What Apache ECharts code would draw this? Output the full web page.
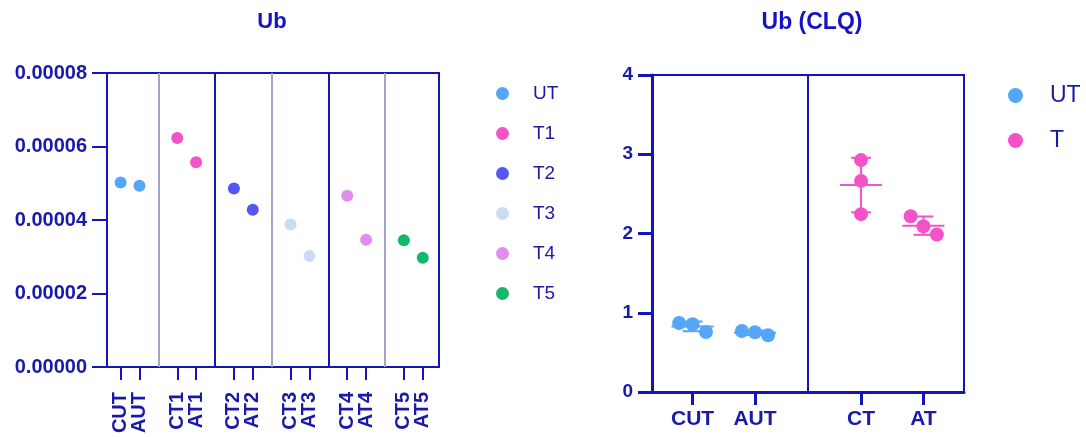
<!DOCTYPE html>
<html>
<head>
<meta charset="utf-8">
<script src="https://cdn.jsdelivr.net/npm/echarts@6/dist/echarts.min.js"></script>
<style>
  html, body { margin: 0; padding: 0; background: #fff; }
  #chart { width: 1086px; height: 437px; }
</style>
</head>
<body>
<div id="chart"></div>
<script>
// left panel: Ub, one value per sample
const ubLabels = ['CUT', 'AUT', 'CT1', 'AT1', 'CT2', 'AT2', 'CT3', 'AT3', 'CT4', 'AT4', 'CT5', 'AT5'];
const ubGroups = ['UT', 'T1', 'T2', 'T3', 'T4', 'T5'];
const ubValues = [0.0000502, 0.0000493, 0.0000623, 0.0000557, 0.0000486, 0.0000428,
                  0.0000388, 0.0000302, 0.0000466, 0.0000346, 0.0000345, 0.0000297];
const ubTicks = [0, 0.00002, 0.00004, 0.00006, 0.00008];

// right panel: Ub (CLQ), three replicates per sample
const clqLabels = ['CUT', 'AUT', 'CT', 'AT'];
const clqGroups = ['UT', 'UT', 'T', 'T'];
const clqCUT = [0.871, 0.855, 0.758];
const clqAUT = [0.770, 0.754, 0.716];
const clqCT = [2.926, 2.664, 2.244];
const clqAT = [2.218, 2.092, 1.987];
const clqTicks = [0, 1, 2, 3, 4];

const blue = '#1414b8';
const textBlue = '#1a1aa8';
const sepGray = '#a4a4cc';
const font = '"Liberation Sans", Arial, sans-serif';
const ubColors = { UT: '#55a6f8', T1: '#f352c8', T2: '#5656f4', T3: '#c9dcf2', T4: '#df8ef0', T5: '#12b86c' };
const clqColors = { UT: '#55a6f8', T: '#f352c8' };

// x layout of the left panel: pairs of ticks, separator after each pair
function ubPos(i) { return 3 * Math.floor(i / 2) + (i % 2); }
const ubSeps = [2, 5, 8, 11, 14];
// x layout of the right panel
const clqPos = [1.3, 3.3, 6.7, 8.7];
const clqJitter = [[-0.43, 0, 0.43], [-0.42, 0, 0.42], [0, 0, 0], [-0.41, 0, 0.43]];

var chart = echarts.init(document.getElementById('chart'));

var series = [];
ubGroups.forEach(function (g, gi) {
  var pts = [];
  ubValues.forEach(function (v, i) {
    if (Math.floor(i / 2) === gi) pts.push([ubPos(i), v]);
  });
  var s = {
    name: g, type: 'scatter', xAxisIndex: 0, yAxisIndex: 0,
    symbolSize: 12, itemStyle: { color: ubColors[g], opacity: 1 },
    data: pts, z: 5
  };
  if (gi === 0) {
    s.markLine = {
      silent: true, symbol: 'none', label: { show: false },
      data: ubSeps.map(function (x, k) {
        return { xAxis: x, lineStyle: { color: k % 2 === 0 ? sepGray : blue, width: 2, type: 'solid' } };
      })
    };
  }
  series.push(s);
});

var clqReps = [clqCUT, clqAUT, clqCT, clqAT];
['UT', 'T'].forEach(function (g, gi) {
  var pts = [], stats = [];
  clqReps.forEach(function (reps, i) {
    if (clqGroups[i] !== g) return;
    reps.forEach(function (v, r) { pts.push([clqPos[i] + clqJitter[i][r], v]); });
    var mean = reps.reduce(function (a, b) { return a + b; }, 0) / reps.length;
    var sd = Math.sqrt(reps.reduce(function (a, b) { return a + (b - mean) * (b - mean); }, 0) / (reps.length - 1));
    stats.push([clqPos[i], mean, sd]);
  });
  series.push({
    name: g + ' sd', type: 'custom', xAxisIndex: 2, yAxisIndex: 1, z: 3, silent: true,
    data: stats,
    renderItem: function (params, api) {
      var x = api.value(0), m = api.value(1), sd = api.value(2);
      var c = api.coord([x, m]), hi = api.coord([x, m + sd]), lo = api.coord([x, m - sd]);
      var st = { stroke: clqColors[g], lineWidth: 2 };
      return {
        type: 'group',
        children: [
          { type: 'line', shape: { x1: c[0] - 21, y1: c[1], x2: c[0] + 21, y2: c[1] }, style: st },
          { type: 'line', shape: { x1: c[0], y1: hi[1], x2: c[0], y2: lo[1] }, style: st },
          { type: 'line', shape: { x1: c[0] - 10, y1: hi[1], x2: c[0] + 10, y2: hi[1] }, style: st },
          { type: 'line', shape: { x1: c[0] - 10, y1: lo[1], x2: c[0] + 10, y2: lo[1] }, style: st }
        ]
      };
    }
  });
  var s = {
    name: g, type: 'scatter', xAxisIndex: 2, yAxisIndex: 1,
    symbolSize: 14, itemStyle: { color: clqColors[g], opacity: 1 },
    data: pts, z: 5
  };
  if (gi === 0) {
    s.markLine = {
      silent: true, symbol: 'none', label: { show: false },
      data: [{ xAxis: 5, lineStyle: { color: blue, width: 2, type: 'solid' } }]
    };
  }
  series.push(s);
});

// left x axis is split in two (C* and A* labels) so rotated labels never collide
function ubAxis(parity) {
  var vals = [];
  ubLabels.forEach(function (l, i) { if (i % 2 === parity) vals.push(ubPos(i)); });
  return {
    type: 'value', gridIndex: 0, position: 'bottom', min: -0.72, max: 16.86,
    splitLine: { show: false },
    axisLine: { show: parity === 0, onZero: false, lineStyle: { color: blue, width: 2 } },
    axisTick: { show: true, length: 13, lineStyle: { color: blue, width: 2 }, customValues: vals },
    axisLabel: { show: true, rotate: 90, margin: 25, color: textBlue, fontSize: 20, fontWeight: 'bold',
      hideOverlap: false, customValues: vals,
      formatter: function (v) {
        for (var i = 0; i < ubLabels.length; i++) if (Math.abs(ubPos(i) - v) < 1e-6) return ubLabels[i];
        return '';
      } }
  };
}

var option = {
  backgroundColor: '#fff',
  animation: false,
  textStyle: { fontFamily: font },
  title: [
    { text: 'Ub', left: 272, top: 11, textAlign: 'center', padding: 0,
      textStyle: { color: '#1414c4', fontSize: 22, fontWeight: 'bold', fontFamily: font } },
    { text: 'Ub (CLQ)', left: 812, top: 11, textAlign: 'center', padding: 0,
      textStyle: { color: '#1414c4', fontSize: 23, fontWeight: 'bold', fontFamily: font } }
  ],
  legend: [
    { data: ubGroups, orient: 'vertical', left: 496, top: 84, icon: 'circle',
      itemWidth: 13, itemHeight: 13, itemGap: 21, padding: 0,
      textStyle: { color: textBlue, fontSize: 19, fontFamily: font, padding: [0, 0, 0, 19] } },
    { data: ['UT', 'T'], orient: 'vertical', left: 1008, top: 84, icon: 'circle',
      itemWidth: 15, itemHeight: 15, itemGap: 22, padding: 0,
      textStyle: { color: textBlue, fontSize: 23, fontFamily: font, padding: [0, 0, 0, 22] } }
  ],
  grid: [
    { left: 107, right: 647, top: 73, bottom: 70, show: true, borderColor: blue, borderWidth: 2, backgroundColor: 'transparent' },
    { left: 652, right: 122, top: 75, bottom: 45, show: true, borderColor: blue, borderWidth: 2, backgroundColor: 'transparent' }
  ],
  xAxis: [
    ubAxis(0),
    ubAxis(1),
    { type: 'value', gridIndex: 1, position: 'bottom', min: 0, max: 10,
      splitLine: { show: false },
      axisLine: { show: true, onZero: false, lineStyle: { color: blue, width: 3 } },
      axisTick: { show: true, length: 13, lineStyle: { color: blue, width: 3 }, customValues: clqPos },
      axisLabel: { show: true, margin: 17, color: textBlue, fontSize: 21, fontWeight: 'bold',
        hideOverlap: false, customValues: clqPos,
        formatter: function (v) {
          for (var i = 0; i < clqPos.length; i++) if (Math.abs(clqPos[i] - v) < 1e-6) return clqLabels[i];
          return '';
        } } }
  ],
  yAxis: [
    { type: 'value', gridIndex: 0, min: ubTicks[0], max: ubTicks[ubTicks.length - 1], interval: 0.00002,
      splitLine: { show: false },
      axisLine: { show: true, onZero: false, lineStyle: { color: blue, width: 2 } },
      axisTick: { show: true, length: 15, lineStyle: { color: blue, width: 2 } },
      axisLabel: { margin: 20, color: textBlue, fontSize: 20, fontWeight: 'bold',
        formatter: function (v) { return v.toFixed(5); } } },
    { type: 'value', gridIndex: 1, min: clqTicks[0], max: clqTicks[clqTicks.length - 1], interval: 1,
      splitLine: { show: false },
      axisLine: { show: true, onZero: false, lineStyle: { color: blue, width: 3 } },
      axisTick: { show: true, length: 14, lineStyle: { color: blue, width: 3 } },
      axisLabel: { margin: 19, color: textBlue, fontSize: 19, fontWeight: 'bold' } }
  ],
  series: series
};

chart.setOption(option);
</script>
</body>
</html>
